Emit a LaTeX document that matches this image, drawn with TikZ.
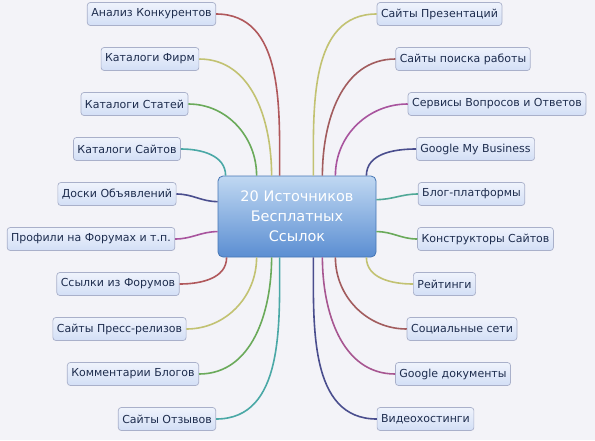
\documentclass[tikz,border=0pt]{standalone}
\usepackage{fontspec}
\setmainfont{DejaVu Sans}

\definecolor{fond}{HTML}{F3F3F8}
\definecolor{texte}{HTML}{1E2D4E}
\definecolor{bord}{HTML}{A9B0CA}
\definecolor{hautF}{HTML}{EFF3FC}
\definecolor{basF}{HTML}{D3DFF6}
\definecolor{hautC}{HTML}{C0D8F2}
\definecolor{basC}{HTML}{5B8ED2}
\definecolor{bordC}{HTML}{4676B4}
\definecolor{rouge}{HTML}{B0585C}
\definecolor{olive}{HTML}{C2C272}
\definecolor{vert}{HTML}{6AAA5A}
\definecolor{sarcelle}{HTML}{4AA8A6}
\definecolor{marine}{HTML}{4A4E8E}
\definecolor{violet}{HTML}{A8549E}
\definecolor{brun}{HTML}{A25C5E}

\tikzstyle{centre} = [rectangle, draw=bordC, line width=0.8pt, top color=hautC, bottom color=basC, text=white, text width=150pt, align=center, rounded corners=5pt, minimum width=158pt, minimum height=81pt, font=\fontsize{14.5}{20}\selectfont]
\tikzstyle{feuille} = [rectangle, draw=bord, line width=0.7pt, top color=hautF, bottom color=basF, text=texte, rounded corners=3pt, minimum height=23pt, inner xsep=4pt, font=\fontsize{11}{12}\selectfont]
\tikzstyle{branche} = [line width=1.6pt]

\begin{document}
\begin{tikzpicture}[x=1pt, y=-1pt]

    \fill[fond] (0,0) rectangle (595,440);

    %  nodes
    \node [centre] (C) at (297,216.5) {20 Источников\\Бесплатных\\Ссылок};

   %-------------------------------------------------------------
    \node[feuille] (L1) at (151.5,14) {Анализ Конкурентов};
    \node[feuille] (L2) at (150,59) {Каталоги Фирм};
    \node[feuille] (L3) at (134.5,104) {Каталоги Статей};
    \node[feuille] (L4) at (127,149) {Каталоги Сайтов};
    \node[feuille] (L5) at (117,194) {Доски Объявлений};
    \node[feuille] (L6) at (91,239) {Профили на Форумах и т.п.};
    \node[feuille] (L7) at (118,284) {Ссылки из Форумов};
    \node[feuille] (L8) at (119.5,329) {Сайты Пресс-релизов};
    \node[feuille] (L9) at (133,374) {Комментарии Блогов};
    \node[feuille] (L10) at (167,419) {Сайты Отзывов};

   %-------------------------------------------------------------
    \node[feuille] (R1) at (439.5,14) {Сайты Презентаций};
    \node[feuille] (R2) at (463,59) {Сайты поиска работы};
    \node[feuille] (R3) at (497,104) {Сервисы Вопросов и Ответов};
    \node[feuille] (R4) at (475.5,149) {Google My Business};
    \node[feuille] (R5) at (471.5,194) {Блог-платформы};
    \node[feuille] (R6) at (485.5,239) {Конструкторы Сайтов};
    \node[feuille] (R7) at (444.5,284) {Рейтинги};
    \node[feuille] (R8) at (462,329) {Социальные сети};
    \node[feuille] (R9) at (453,374) {Google документы};
    \node[feuille] (R10) at (425.5,419) {Видеохостинги};

   %-------------------------------------------------------------
    \draw[branche, rouge] (L1.east) to[out=0, in=90] ([xshift=62pt]C.north west);
    \draw[branche, olive] (L2.east) to[out=0, in=90] ([xshift=54pt]C.north west);
    \draw[branche, vert] (L3.east) to[out=0, in=90] ([xshift=39pt]C.north west);
    \draw[branche, sarcelle] (L4.east) to[out=0, in=90] ([xshift=8pt]C.north west);
    \draw[branche, marine] (L5.east) to[out=0, in=180] ([yshift=-26pt]C.north west);
    \draw[branche, violet] (L6.east) to[out=0, in=180] ([yshift=-56pt]C.north west);
    \draw[branche, rouge] (L7.east) to[out=0, in=-90] ([xshift=9pt]C.south west);
    \draw[branche, olive] (L8.east) to[out=0, in=-90] ([xshift=39pt]C.south west);
    \draw[branche, vert] (L9.east) to[out=0, in=-90] ([xshift=54pt]C.south west);
    \draw[branche, sarcelle] (L10.east) to[out=0, in=-90] ([xshift=62pt]C.south west);

   %-------------------------------------------------------------
    \draw[branche, olive] (R1.west) to[out=180, in=90] ([xshift=-63pt]C.north east);
    \draw[branche, brun] (R2.west) to[out=180, in=90] ([xshift=-54pt]C.north east);
    \draw[branche, violet] (R3.west) to[out=180, in=90] ([xshift=-41pt]C.north east);
    \draw[branche, marine] (R4.west) to[out=180, in=90] ([xshift=-10pt]C.north east);
    \draw[branche, sarcelle!80!vert] (R5.west) to[out=180, in=0] ([yshift=-24pt]C.north east);
    \draw[branche, vert] (R6.west) to[out=180, in=0] ([yshift=-56pt]C.north east);
    \draw[branche, olive] (R7.west) to[out=180, in=-90] ([xshift=-10pt]C.south east);
    \draw[branche, brun] (R8.west) to[out=180, in=-90] ([xshift=-41pt]C.south east);
    \draw[branche, violet!80!brun] (R9.west) to[out=180, in=-90] ([xshift=-54pt]C.south east);
    \draw[branche, marine] (R10.west) to[out=180, in=-90] ([xshift=-63pt]C.south east);

\end{tikzpicture}
\end{document}
